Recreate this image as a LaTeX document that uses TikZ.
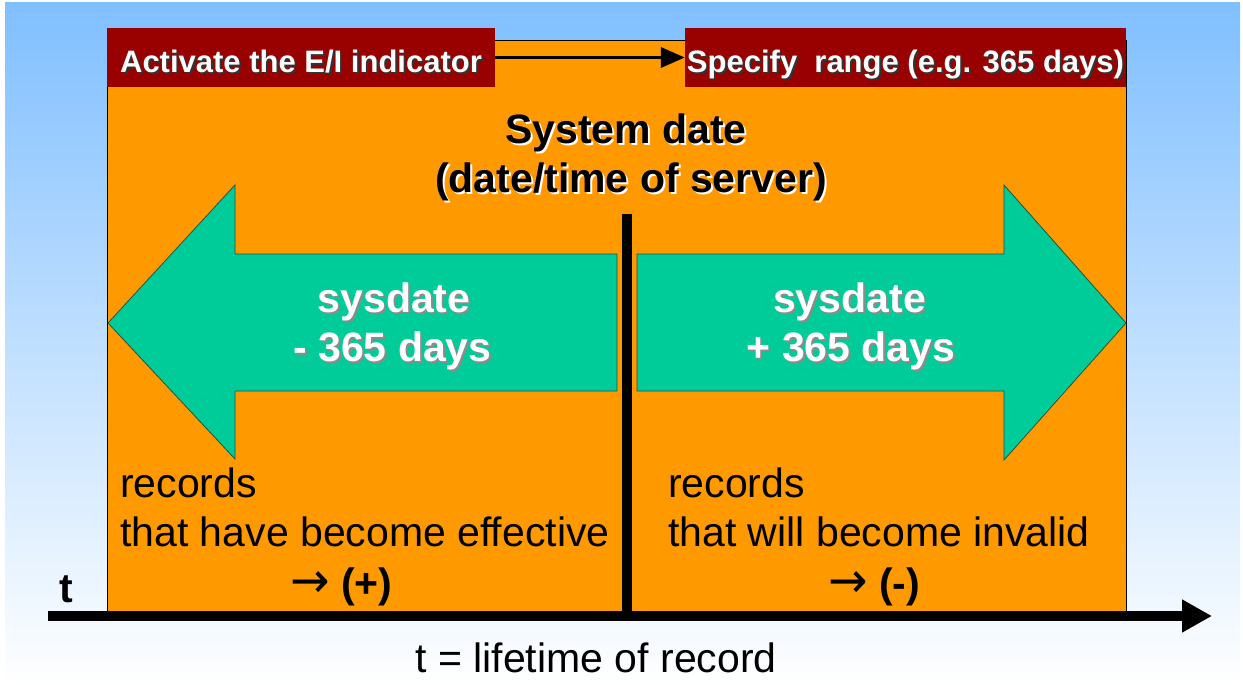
\documentclass[tikz,border=0pt]{standalone}
\usepackage{fontspec}
\setmainfont{Liberation Sans}
\newfontfamily\arrowfont{DejaVu Sans}
\usetikzlibrary{arrows.meta,positioning}

\definecolor{skyblue}{RGB}{128,191,255}
\definecolor{boxorange}{RGB}{255,153,0}
\definecolor{hdrred}{RGB}{153,0,0}
\definecolor{arrowgreen}{RGB}{0,204,153}
\definecolor{edgegreen}{RGB}{40,80,60}

\newcommand\bigsize{\fontsize{41}{49}\selectfont}
\newcommand\hdrsize{\fontsize{31}{37}\selectfont}
\newcommand\shadowed[2]{\leavevmode\rlap{\hspace{2pt}\raisebox{-2pt}{\color{#1}#2}}#2}
\newcommand\thinarrow{\scalebox{1.15}[1.2]{\arrowfont →}}

\tikzset{
  hdrbox/.style={fill=hdrred, text=white, font=\hdrsize\bfseries, inner sep=0pt,
    minimum height=59pt, text height=30pt, text depth=0pt},
  bigbold/.style={font=\bigsize\bfseries, anchor=base, inner sep=0pt},
  bigplain/.style={font=\bigsize, anchor=base west, inner sep=0pt},
  bigarrow/.style={fill=arrowgreen, draw=edgegreen, line width=0.8pt},
}

\begin{document}
\begin{tikzpicture}[x=1pt,y=-1pt]
\useasboundingbox (0,0) rectangle (1243,685);
\fill[white] (0,0) rectangle (1243,685);
\shade[top color=skyblue, bottom color=white] (5,3) rectangle (1240,685);

\draw[fill=boxorange, line width=0.8pt] (107,40) rectangle (1126,611);

\node[hdrbox, minimum width=388pt] (activate) at (301,57.5) {\shadowed{black!80}{Activate the E/I indicator}};
\node[hdrbox, minimum width=441pt] (specify) at (905.5,57.5) {\shadowed{black!80}{Specify\ \ range (e.g. 365 days)}};
\draw[line width=3.5pt, -{Triangle[length=24pt,width=20pt]}] (activate) -- (specify);

\node[bigbold] (sysdate) at (626,143) {\shadowed{white}{System date}};
\node[bigbold] (server) at (631,192) {\shadowed{white}{(date/time of server)}};

\draw[bigarrow] (108,323) -- (235,185) -- (235,254) -- (617,254) -- (617,391) -- (235,391) -- (235,459) -- cycle;
\draw[bigarrow] (1126,323) -- (1004,185) -- (1004,254) -- (637,254) -- (637,391) -- (1004,391) -- (1004,460) -- cycle;

\node[bigbold, text=white] (pastsys) at (394,312) {\shadowed{black!45}{sysdate}};
\node[bigbold, text=white] (pastdays) at (392.5,361) {\shadowed{black!45}{- 365 days}};
\node[bigbold, text=white] (futsys) at (849.5,312) {\shadowed{black!45}{sysdate}};
\node[bigbold, text=white] (futdays) at (851,361) {\shadowed{black!45}{+ 365 days}};

\node[bigplain] (pastrec) at (120,497) {records};
\node[bigplain] (pastwhat) at (120,546) {that have become effective};
\node[bigplain] (pastsign) at (290,597) {\thinarrow\ \textbf{(+)}};
\node[bigplain] (futrec) at (668,497) {records};
\node[bigplain] (futwhat) at (668,546) {that will become invalid};
\node[bigplain] (futsign) at (828,597) {\thinarrow\ \textbf{(-)}};

\draw[line width=10pt] (626.5,214) -- (626.5,611);

\coordinate (tstart) at (48,616);
\coordinate (tend) at (1212,616);
\draw[line width=10pt, -{Triangle[length=30pt,width=31pt]}] (tstart) -- (tend);

\node[bigbold] (taxis) at (66,602) {t};
\node[bigplain, anchor=base] (tlabel) at (596,672) {t = lifetime of record};
\end{tikzpicture}
\end{document}
